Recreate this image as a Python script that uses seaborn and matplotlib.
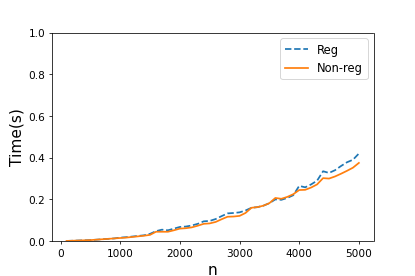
import pandas as pd
import seaborn as sns
import matplotlib
matplotlib.use('Agg')
import matplotlib.pyplot as plt

# Input sizes
n = list(range(100, 5100, 100))

# Timing results
reg = [0.001, 0.002, 0.003, 0.004, 0.005, 0.007, 0.009, 0.011, 0.013, 0.017,
       0.019, 0.022, 0.025, 0.028, 0.035, 0.048, 0.055, 0.052, 0.060, 0.068,
       0.070, 0.075, 0.083, 0.095, 0.097, 0.106, 0.120, 0.133, 0.135, 0.138,
       0.147, 0.160, 0.163, 0.170, 0.182, 0.200, 0.198, 0.207, 0.220, 0.265,
       0.258, 0.272, 0.290, 0.335, 0.327, 0.340, 0.360, 0.378, 0.390, 0.420]
non_reg = [0.001, 0.002, 0.003, 0.004, 0.005, 0.007, 0.009, 0.011, 0.013, 0.015,
           0.017, 0.020, 0.023, 0.026, 0.030, 0.045, 0.045, 0.045, 0.052, 0.060,
           0.062, 0.066, 0.074, 0.083, 0.085, 0.092, 0.105, 0.117, 0.118, 0.121,
           0.135, 0.160, 0.163, 0.170, 0.182, 0.207, 0.203, 0.212, 0.225, 0.245,
           0.246, 0.257, 0.272, 0.302, 0.300, 0.310, 0.323, 0.337, 0.352, 0.375]

df = pd.DataFrame({'n': n, 'Reg': reg, 'Non-reg': non_reg})

fig, ax = plt.subplots(figsize=(6, 4), dpi=415 / 6)
fig.subplots_adjust(left=0.125, right=0.9, top=0.88, bottom=0.126)

sns.lineplot(data=df, x='n', y='Reg', ax=ax, color='C0', linestyle='--',
             linewidth=1.8, label='Reg')
sns.lineplot(data=df, x='n', y='Non-reg', ax=ax, color='C1',
             linewidth=1.8, label='Non-reg')

ax.set_ylim(0, 1.0)
ax.set_xlabel('n', fontsize=16, labelpad=5)
ax.set_ylabel('Time(s)', fontsize=16)
ax.tick_params(labelsize=11)
ax.legend(loc='upper right', fontsize=12)

fig.savefig('out.png', dpi=415 / 6)
